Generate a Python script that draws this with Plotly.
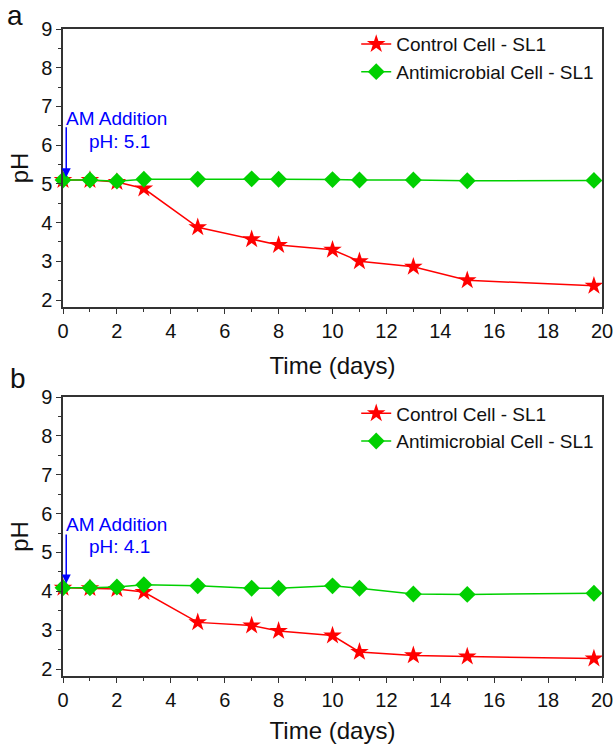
import plotly.graph_objects as go
from plotly.subplots import make_subplots

days = [0, 1, 2, 3, 5, 7, 8, 10, 11, 13, 15, 19.7]
control_a = [5.10, 5.10, 5.05, 4.88, 3.88, 3.57, 3.42, 3.30, 3.00, 2.86, 2.51, 2.37]
antimicro_a = [5.10, 5.10, 5.07, 5.12, 5.12, 5.13, 5.12, 5.11, 5.10, 5.10, 5.08, 5.09]
control_b = [4.09, 4.08, 4.06, 3.98, 3.20, 3.12, 2.98, 2.86, 2.44, 2.35, 2.32, 2.27]
antimicro_b = [4.09, 4.09, 4.11, 4.17, 4.14, 4.08, 4.08, 4.14, 4.08, 3.93, 3.92, 3.95]
x_ticks = [0, 2, 4, 6, 8, 10, 12, 14, 16, 18, 20]
y_ticks = [2, 3, 4, 5, 6, 7, 8, 9]
start_ph = ["5.1", "4.1"]

FONT = "Arial, Liberation Sans, sans-serif"
RED = "#FF0000"
GREEN = "#00D000"
BLUE = "#0000FF"
INK = "#111111"

fig = make_subplots(rows=2, cols=1, vertical_spacing=0.0)

panels = [(control_a, antimicro_a, 1, "legend"), (control_b, antimicro_b, 2, "legend2")]
for ctrl, anti, r, leg in panels:
    fig.add_trace(go.Scatter(x=days, y=ctrl, mode="lines+markers", name="Control Cell - SL1",
                             line=dict(color=RED, width=1.5),
                             marker=dict(symbol="star", size=14, color=RED),
                             cliponaxis=False, legend=leg), row=r, col=1)
    fig.add_trace(go.Scatter(x=days, y=anti, mode="lines+markers", name="Antimicrobial Cell - SL1",
                             line=dict(color=GREEN, width=1.5),
                             marker=dict(symbol="diamond", size=13, color=GREEN),
                             cliponaxis=False, legend=leg), row=r, col=1)

axis_common = dict(showline=True, linecolor="#333333", linewidth=1.5, mirror=True,
                   ticks="outside", ticklen=5, tickwidth=1.2, tickcolor="#333333",
                   showgrid=False, zeroline=False, automargin=False,
                   tickfont=dict(family=FONT, size=20, color=INK))

for r in (1, 2):
    fig.update_xaxes(range=[0, 20], tickvals=x_ticks,
                     minor=dict(ticks="outside", ticklen=3, dtick=1, tickcolor="#333333", tickwidth=1),
                     title=dict(text="Time (days)", font=dict(family=FONT, size=24, color=INK), standoff=16),
                     **axis_common, row=r, col=1)
    fig.update_yaxes(range=[1.82, 9], tickvals=y_ticks,
                     minor=dict(ticks="outside", ticklen=3, dtick=0.5, tickcolor="#333333", tickwidth=1),
                     title=dict(text="pH", font=dict(family=FONT, size=24, color=INK), standoff=6),
                     **axis_common, row=r, col=1)

fig.update_layout(
    width=616, height=744,
    margin=dict(l=63, r=14, t=29, b=68, autoexpand=False),
    plot_bgcolor="white", paper_bgcolor="white",
    font=dict(family=FONT),
    xaxis=dict(domain=[0, 1]), xaxis2=dict(domain=[0, 1]),
    yaxis=dict(domain=[0.5703, 1.0]), yaxis2=dict(domain=[0.0, 0.4312]),
    legend=dict(x=0.544, y=1.006, xanchor="left", yanchor="top", bgcolor="rgba(0,0,0,0)",
                font=dict(family=FONT, size=19, color=INK), tracegroupgap=0),
    legend2=dict(x=0.544, y=0.4352, xanchor="left", yanchor="top", bgcolor="rgba(0,0,0,0)",
                 font=dict(family=FONT, size=19, color=INK), tracegroupgap=0),
    showlegend=True,
)

arrows = [("x", "y", 6.5, 5.17, 6.7, 6.1, start_ph[0]), ("x2", "y2", 5.5, 4.2, 5.72, 5.15, start_ph[1])]
for xr, yr, y0, y1, ytxt1, ytxt2, ph in arrows:
    fig.add_annotation(x=0.12, y=y1, ax=0.12, ay=y0, xref=xr, yref=yr, axref=xr, ayref=yr,
                       showarrow=True, arrowhead=2, arrowsize=1.2, arrowwidth=1.5, arrowcolor=BLUE, text="")
    fig.add_annotation(x=0.05, y=ytxt1, xref=xr, yref=yr, text="AM Addition", showarrow=False,
                       xanchor="left", yanchor="middle", font=dict(family=FONT, size=19, color=BLUE))
    fig.add_annotation(x=0.9, y=ytxt2, xref=xr, yref=yr, text="pH: " + ph, showarrow=False,
                       xanchor="left", yanchor="middle", font=dict(family=FONT, size=19, color=BLUE))

for lbl, xp, yp in (("a", -58 / 539, 1.0 + 14 / 647), ("b", -55 / 539, 0.4312 + 19 / 647)):
    fig.add_annotation(x=xp, y=yp, xref="paper", yref="paper", text=lbl, showarrow=False,
                       xanchor="left", yanchor="middle", font=dict(family=FONT, size=28, color=INK))

fig.write_html("out.html", config={"displayModeBar": False},
               post_script="document.body.style.margin='0';document.body.style.padding='0';")
